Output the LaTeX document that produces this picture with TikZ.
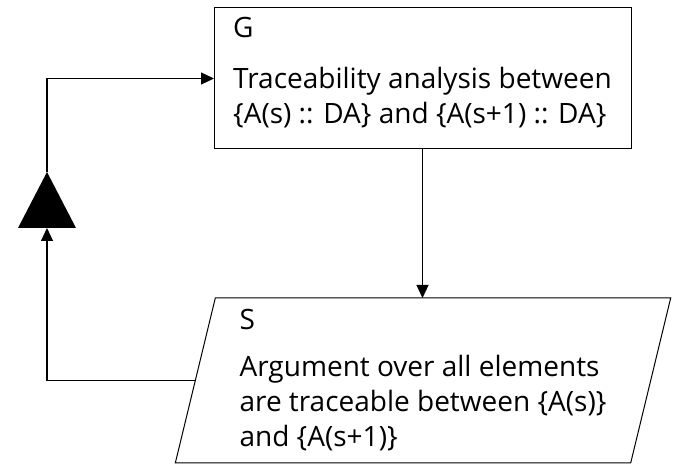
\documentclass[tikz,border=0pt]{standalone}
\usepackage{fontspec}
\setmainfont{Open Sans}
\usetikzlibrary{positioning,arrows.meta,shapes.geometric}
\newcommand{\gsnfont}{\fontsize{28}{35}\selectfont}

\begin{document}
\begin{tikzpicture}[x=1pt,y=-1pt,
  goalbox/.style={draw,line width=1pt,rectangle,minimum width=417pt,minimum height=141pt,
    inner sep=0pt,outer sep=0pt,align=left,font=\gsnfont},
  strbox/.style={draw,line width=1pt,trapezium,trapezium left angle=76,trapezium right angle=104,
    trapezium stretches=true,minimum width=498pt,minimum height=165pt,
    inner sep=0pt,outer sep=0pt,align=left,font=\gsnfont},
  link/.style={line width=1.2pt,-{Triangle[length=13pt,width=12pt]}}]
\useasboundingbox (0,0) rectangle (673,465);
% goal and strategy
\node[goalbox,text depth=16pt] (G) at (422.5,78.5) {G\\[16pt]Traceability analysis between\\\{A(s) :: DA\} and \{A(s+1) :: DA\}};
\node[strbox] (S) at (423,380.5) {S\\[12pt]Argument over all elements\\are traceable between \{A(s)\}\\and \{A(s+1)\}};
% big triangle on the way back
\coordinate (tribase) at (47,228);
\coordinate (triapex) at (47,172);
\fill (triapex) -- ++(29,56) -- ++(-58,0) -- cycle;
% connectors
\draw[link] (G.south) -- (G.south |- S.north);
\draw[link] (S.west) -| (tribase);
\draw[link] (triapex) |- (G.west);
\end{tikzpicture}
\end{document}
